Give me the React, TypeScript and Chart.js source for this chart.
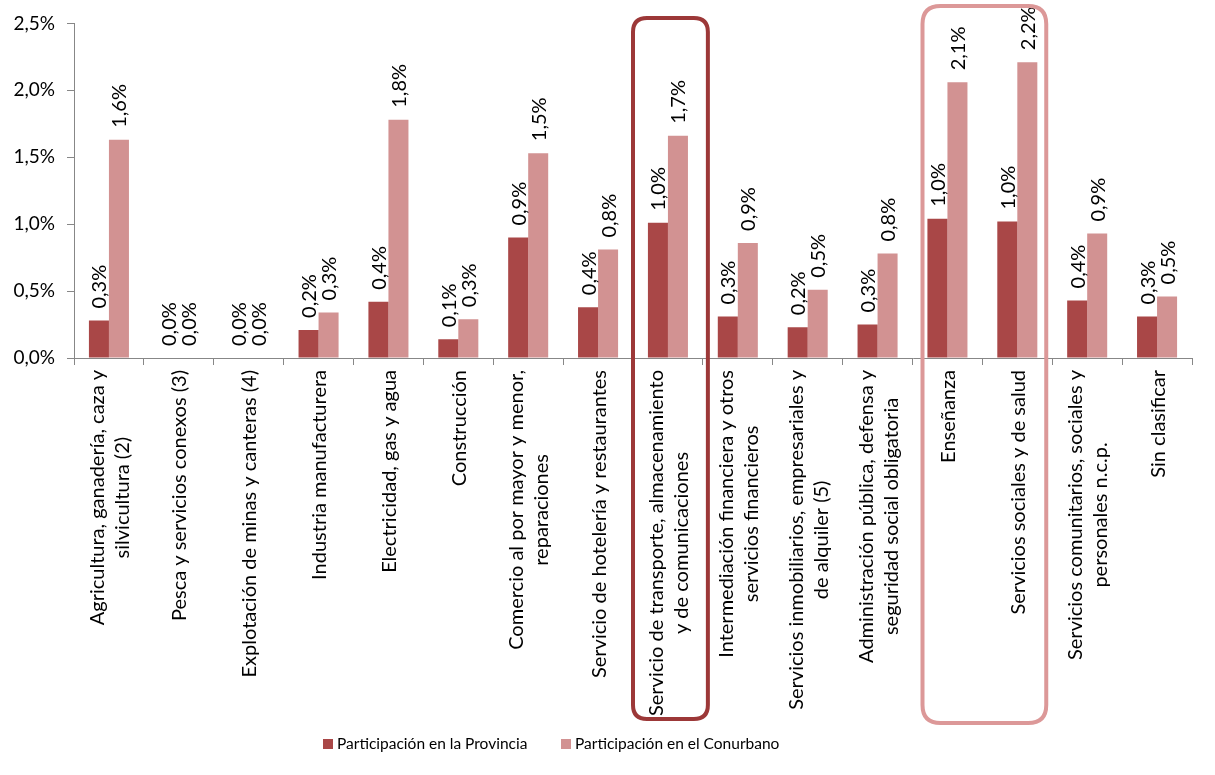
import React, { useEffect, useRef } from "react";
import { Chart, registerables } from "chart.js";

Chart.register(...registerables);

const categories: string[][] = [
  ["Agricultura, ganadería, caza y", "silvicultura (2)"],
  ["Pesca y servicios conexos (3)"],
  ["Explotación de minas y canteras (4)"],
  ["Industria manufacturera"],
  ["Electricidad, gas y agua"],
  ["Construcción"],
  ["Comercio al por mayor y menor,", "reparaciones"],
  ["Servicio de hotelería y restaurantes"],
  ["Servicio de transporte, almacenamiento", "y de comunicaciones"],
  ["Intermediación financiera y otros", "servicios financieros"],
  ["Servicios inmobiliarios, empresariales y", "de alquiler (5)"],
  ["Administración pública, defensa y", "seguridad social obligatoria"],
  ["Enseñanza"],
  ["Servicios sociales y de salud"],
  ["Servicios comunitarios, sociales y", "personales n.c.p."],
  ["Sin clasificar"],
];

const seriesNames = ["Participación en la Provincia", "Participación en el Conurbano"];

const provincia = [0.28, 0, 0, 0.21, 0.42, 0.14, 0.9, 0.38, 1.01, 0.31, 0.23, 0.25, 1.04, 1.02, 0.43, 0.31];
const conurbano = [1.63, 0, 0, 0.34, 1.78, 0.29, 1.53, 0.81, 1.66, 0.86, 0.51, 0.78, 2.06, 2.21, 0.93, 0.46];

const yTicks = [0, 0.5, 1, 1.5, 2, 2.5];

// highlighted category groups (first index, last index)
const highlights = [
  { from: 8, to: 8, color: "#9C3838" },
  { from: 12, to: 13, color: "#DC9898" },
];

const COLORS = ["#A94747", "#D29292"];
const FONT = "Lato";

const fmt = (v: number) => v.toFixed(1).replace(".", ",") + "%";

function roundRect(ctx: CanvasRenderingContext2D, x: number, y: number, w: number, h: number, r: number) {
  ctx.beginPath();
  ctx.moveTo(x + r, y);
  ctx.lineTo(x + w - r, y);
  ctx.quadraticCurveTo(x + w, y, x + w, y + r);
  ctx.lineTo(x + w, y + h - r);
  ctx.quadraticCurveTo(x + w, y + h, x + w - r, y + h);
  ctx.lineTo(x + r, y + h);
  ctx.quadraticCurveTo(x, y + h, x, y + h - r);
  ctx.lineTo(x, y + r);
  ctx.quadraticCurveTo(x, y, x + r, y);
  ctx.closePath();
}

const overlayPlugin = {
  id: "overlay",
  afterDatasetsDraw(chart: any) {
    const ctx: CanvasRenderingContext2D = chart.ctx;
    const x = chart.scales.x;
    const area = chart.chartArea;
    // data labels
    ctx.save();
    ctx.fillStyle = "#000";
    ctx.font = `20px ${FONT}`;
    ctx.textAlign = "left";
    ctx.textBaseline = "middle";
    chart.data.datasets.forEach((ds: any, di: number) => {
      const meta = chart.getDatasetMeta(di);
      meta.data.forEach((bar: any, i: number) => {
        ctx.save();
        ctx.translate(bar.x + 1, bar.y - 12);
        ctx.rotate(-Math.PI / 2);
        ctx.fillText(fmt(ds.data[i]), 0, 0);
        ctx.restore();
      });
    });
    ctx.restore();

    // category labels (rotated, centered lines)
    ctx.save();
    ctx.fillStyle = "#000";
    ctx.font = `20px ${FONT}`;
    ctx.textAlign = "center";
    ctx.textBaseline = "middle";
    const lineH = 25;
    categories.forEach((lines, i) => {
      const cx = x.getPixelForValue(i);
      const maxW = Math.max(...lines.map((l) => ctx.measureText(l).width));
      ctx.save();
      ctx.translate(cx + 1, area.bottom + 12);
      ctx.rotate(-Math.PI / 2);
      lines.forEach((l, li) => {
        const v = (li - (lines.length - 1) / 2) * lineH;
        ctx.fillText(l, -maxW / 2, v);
      });
      ctx.restore();
    });
    ctx.restore();
  },
  afterDraw(chart: any) {
    const ctx: CanvasRenderingContext2D = chart.ctx;
    const x = chart.scales.x;
    const w = x.getPixelForValue(1) - x.getPixelForValue(0);
    // highlight boxes
    ctx.save();
    ctx.lineWidth = 4;
    highlights.forEach((h, k) => {
      const left = x.getPixelForValue(h.from) - w / 2 + (k === 0 ? 0 : 10);
      const right = x.getPixelForValue(h.to) + w / 2 + (k === 0 ? 5 : -6);
      const top = k === 0 ? 18 : 6;
      const bottom = k === 0 ? 719 : 723;
      ctx.strokeStyle = h.color;
      roundRect(ctx, left, top, right - left, bottom - top, k === 0 ? 14 : 18);
      ctx.stroke();
    });
    ctx.restore();

    // legend
    ctx.save();
    ctx.font = `15.5px ${FONT}`;
    ctx.textBaseline = "middle";
    ctx.textAlign = "left";
    const legendY = 744;
    const starts = [323, 561];
    seriesNames.forEach((name, i) => {
      ctx.fillStyle = COLORS[i];
      ctx.fillRect(starts[i], legendY - 5, 10, 10);
      ctx.fillStyle = "#000";
      ctx.fillText(name, starts[i] + 14, legendY);
    });
    ctx.restore();
  },
};

export default function App() {
  const ref = useRef<HTMLCanvasElement>(null);
  useEffect(() => {
    document.body.style.margin = "0";
    const chart = new Chart(ref.current!, {
      type: "bar",
      data: {
        labels: categories.map((c) => c.join(" ")),
        datasets: [
          { label: seriesNames[0], data: provincia, backgroundColor: COLORS[0], borderWidth: 0 },
          { label: seriesNames[1], data: conurbano, backgroundColor: COLORS[1], borderWidth: 0 },
        ],
      },
      options: {
        animation: false,
        responsive: false,
        maintainAspectRatio: false,
        layout: { padding: { top: 23, right: 23, left: 0, bottom: 0 } },
        datasets: { bar: { categoryPercentage: 0.573, barPercentage: 1.0 } },
        plugins: { legend: { display: false }, tooltip: { enabled: false } },
        scales: {
          x: {
            afterFit: (s: any) => {
              s.height = 775 - 358;
            },
            ticks: { display: false },
            grid: {
              display: true,
              drawOnChartArea: false,
              drawTicks: true,
              tickLength: 7,
              color: "#878787",
              offset: true,
            },
            border: { display: true, color: "#878787", width: 1 },
          },
          y: {
            min: 0,
            max: 2.5,
            afterFit: (s: any) => {
              s.width = 74;
            },
            afterBuildTicks: (s: any) => {
              s.ticks = yTicks.map((v) => ({ value: v }));
            },
            ticks: {
              callback: (v: any) => fmt(Number(v)),
              color: "#000",
              font: { family: FONT, size: 19 },
              padding: 12,
            },
            grid: {
              drawOnChartArea: false,
              drawTicks: true,
              tickLength: 7,
              color: "#878787",
            },
            border: { display: true, color: "#878787", width: 1 },
          },
        },
      },
      plugins: [overlayPlugin],
    });
    return () => chart.destroy();
  }, []);
  return (
    <div style={{ position: "absolute", left: 0, top: 0, width: 1215, height: 775 }}>
      <canvas ref={ref} width={1215} height={775} style={{ width: 1215, height: 775 }} />
    </div>
  );
}
